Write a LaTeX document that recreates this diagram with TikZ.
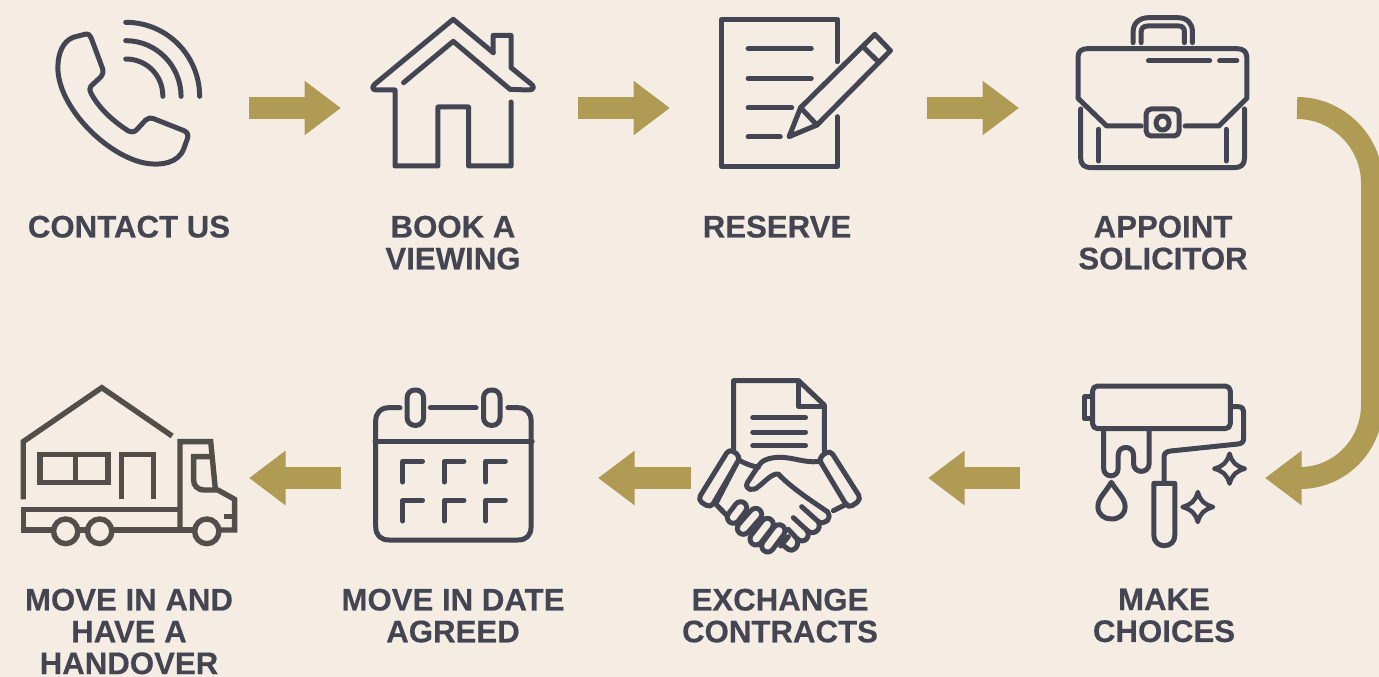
\documentclass[tikz,border=0pt]{standalone}
\usepackage{fontspec}
\setmainfont[BoldFeatures={FakeBold=0.4}]{Liberation Sans}
\usetikzlibrary{arrows.meta}
\definecolor{bgc}{HTML}{F5EDE4}
\definecolor{gold}{HTML}{B09B55}
\definecolor{ink}{HTML}{434652}
\definecolor{brownink}{HTML}{544E4A}
\tikzset{
  icon/.style={draw=ink,line width=5pt,line cap=round,line join=round},
  truckline/.style={draw=brownink,line width=5.4pt,line cap=butt,line join=miter},
  flow/.style={draw=gold,line width=22pt,-{Triangle[length=36.5pt,width=52pt,fill=gold]}},
  caption/.style={text=ink,align=center,anchor=north,inner sep=0pt,font=\fontsize{31.2}{31.8}\selectfont\bfseries},
  zA/.style={x=0.35714pt,y=-0.33333pt},
  zB/.style={x=0.3827pt,y=-0.33333pt},
  capsule/.style={draw=ink,line width=5pt,double=bgc,double distance=7pt,line cap=round},
}
\newcommand{\spark}[2]{%
  \draw[icon,line width=4.4pt] (#1,#2-45) .. controls (#1+7,#2-17) and (#1+17,#2-8) .. (#1+40,#2)
    .. controls (#1+17,#2+8) and (#1+7,#2+17) .. (#1,#2+45)
    .. controls (#1-7,#2+17) and (#1-17,#2+8) .. (#1-40,#2)
    .. controls (#1-17,#2-8) and (#1-7,#2-17) .. cycle;}
\begin{document}
\begin{tikzpicture}[x=1pt,y=-1pt]
\useasboundingbox (0,0) rectangle (1379,677);
\clip (0,0) rectangle (1379,677);
\fill[bgc] (0,0) rectangle (1379,677);

\coordinate (phone) at (129,108);
\coordinate (house) at (453,108);
\coordinate (doc) at (778,108);
\coordinate (case) at (1163,108);
\coordinate (truck) at (129,478);
\coordinate (cal) at (453,478);
\coordinate (shake) at (778,478);
\coordinate (roller) at (1164,478);
\coordinate (bendstart) at (1297,108);
\coordinate (bendend) at (1265,478);

% labels
\node[caption] (t1) at (129,215.5) {CONTACT US};
\node[caption] (t2) at (453,215.5) {BOOK A\\VIEWING};
\node[caption] (t3) at (777,215.5) {RESERVE};
\node[caption] (t4) at (1163,215.5) {APPOINT\\SOLICITOR};
\node[caption] (t5) at (129,588.5) {MOVE IN AND\\HAVE A\\HANDOVER};
\node[caption] (t6) at (453,588.5) {MOVE IN DATE\\AGREED};
\node[caption] (t7) at (780,588.5) {EXCHANGE\\CONTRACTS};
\node[caption] (t8) at (1164,588.5) {MAKE\\CHOICES};

% arrows
\draw[flow,shorten <=120pt,shorten >=112pt] (phone) -- (house);
\draw[flow,shorten <=125pt,shorten >=108pt] (house) -- (doc);
\draw[flow,shorten <=149pt,shorten >=144pt] (doc) -- (case);
\draw[flow,shorten <=144pt,shorten >=150pt] (roller) -- (shake);
\draw[flow,shorten <=87pt,shorten >=145pt] (shake) -- (cal);
\draw[flow,shorten <=112pt,shorten >=120pt] (cal) -- (truck);
\draw[flow] (bendstart) .. controls ++(41,0) and (1372,142) .. (1372,183) -- (1372,405)
  .. controls (1372,445) and (1340,478) .. (1300,478) -- (bendend);

% phone
\begin{scope}[zA]
\draw[icon] (205,112) -- (237,103) .. controls (247,100) and (252,105) .. (255,113) -- (287,205)
  .. controls (290,215) and (288,225) .. (280,233) -- (255,258) .. controls (250,265) and (250,272) .. (255,280)
  .. controls (280,330) and (320,365) .. (358,392) .. controls (368,397) and (375,397) .. (382,390)
  -- (408,360) .. controls (415,353) and (422,353) .. (430,356) -- (515,392)
  .. controls (525,397) and (528,405) .. (525,415) -- (515,445)
  .. controls (500,490) and (450,497) .. (410,490) .. controls (300,470) and (160,320) .. (162,200)
  .. controls (163,160) and (175,125) .. (205,112) -- cycle;
\draw[icon] (352,177) .. controls (410,177) and (456,225) .. (456,289);
\draw[icon] (352,122) .. controls (440,122) and (507,200) .. (507,289);
\draw[icon] (352,67) .. controls (470,67) and (559,170) .. (559,289);
% house
\draw[icon] (1381,158) -- (1269,58) -- (1050,252) .. controls (1040,262) and (1042,270) .. (1055,270)
  -- (1106,270) -- (1106,498) -- (1226,498) -- (1226,321) -- (1312,321) -- (1312,498) -- (1431,498) -- (1431,306);
\draw[icon] (1130,248) -- (1269,124) -- (1428,268) -- (1480,270) .. controls (1497,270) and (1497,258) .. (1485,250)
  -- (1431,203) -- (1431,106) -- (1381,106) -- (1381,158);
\end{scope}

% document and case
\begin{scope}[shift={(680,0)},zB]
\draw[icon] (411,185) -- (411,58) -- (109,58) -- (109,500) -- (411,500) -- (411,350);
\draw[icon] (178,146) -- (343,146) (178,235) -- (343,235) (178,323) -- (292,323) (178,411) -- (262,411);
\draw[icon] (315,323) -- (509,103) -- (550,152) -- (358,375) -- (285,410) -- cycle;
\draw[icon] (478,140) -- (518,185) (315,323) -- (358,375);
\draw[icon] (1184,128) -- (1184,95) .. controls (1184,70) and (1200,53) .. (1225,53) -- (1300,53)
  .. controls (1325,53) and (1339,70) .. (1339,95) -- (1339,128);
\draw[icon] (1205,128) -- (1205,95) .. controls (1205,84) and (1212,78) .. (1222,78) -- (1303,78)
  .. controls (1313,78) and (1318,84) .. (1318,95) -- (1318,128);
\draw[icon] (1205,378) -- (1115,378) -- (1040,295) -- (1040,172) .. controls (1040,155) and (1048,146) .. (1065,146)
  -- (1455,146) .. controls (1472,146) and (1481,155) .. (1481,172) -- (1481,295) -- (1408,378) -- (1320,378);
\draw[icon] (1224,182) -- (1384,182) (1410,182) -- (1455,182);
\draw[icon,rounded corners=5pt] (1218,327) rectangle (1304,408);
\draw[icon] (1261,369) circle [x radius=17,y radius=21];
\draw[icon] (1047,327) -- (1047,475) .. controls (1047,495) and (1058,503) .. (1075,503) -- (1447,503)
  .. controls (1465,503) and (1475,495) .. (1475,475) -- (1475,327);
\draw[icon] (1094,388) -- (1094,483) (1427,388) -- (1427,483);
\end{scope}

% truck and calendar
\begin{scope}[shift={(0,370)},zA]
\draw[truckline] (65,388) -- (65,215) -- (285,53) -- (482,198);
\draw[truckline] (112,254) rectangle (302,338);
\draw[truckline] (211,254) -- (211,338);
\draw[truckline] (341,388) -- (341,254) -- (430,254) -- (430,388);
\draw[truckline] (504,418) -- (65,418) -- (65,480) -- (148,480);
\draw[truckline] (222,480) -- (245,480) (318,480) -- (545,480);
\draw[truckline] (615,480) -- (657,480) -- (657,388) -- (610,360) -- (572,360)
  .. controls (552,360) and (542,345) .. (542,330) -- (542,260) -- (590,260);
\draw[truckline] (504,480) -- (504,215) -- (590,215) -- (603,358);
\draw[truckline] (627,439) -- (657,439);
\draw[truckline] (184,484) circle [x radius=34,y radius=37];
\draw[truckline] (279,484) circle [x radius=34,y radius=37];
\draw[truckline] (579,484) circle [x radius=34,y radius=37];
\draw[icon] (1120,113) -- (1090,113) .. controls (1065,113) and (1052,130) .. (1052,152) -- (1052,470)
  .. controls (1052,495) and (1065,510) .. (1090,510) -- (1450,510)
  .. controls (1475,510) and (1487,495) .. (1487,470) -- (1487,152)
  .. controls (1487,130) and (1475,113) .. (1450,113) -- (1422,113);
\draw[icon] (1205,113) -- (1333,113);
\draw[icon] (1050,214) -- (1490,214);
\draw[icon,rounded corners=7.5pt] (1140,60) rectangle (1186,166);
\draw[icon,rounded corners=7.5pt] (1354,60) rectangle (1400,166);
\foreach \cx in {1128,1244,1360}{\foreach \cy in {274,391}{
  \draw[icon] (\cx,\cy+62) -- (\cx,\cy) -- (\cx+55,\cy);}}
\end{scope}

% handshake document and roller
\begin{scope}[shift={(680,370)},zB]
\draw[icon] (140,240) -- (140,32) -- (310,32) -- (377,105) -- (377,245);
\draw[icon] (310,32) -- (310,110) -- (377,110);
\draw[icon] (190,143) -- (328,143) (190,186) -- (328,186) (190,227) -- (328,227);
% roller
\draw[icon,rounded corners=5pt] (1078,48) rectangle (1438,176);
\draw[icon] (1075,80) -- (1057,80) -- (1057,146) -- (1075,146);
\draw[icon] (1443,110) -- (1458,110) .. controls (1468,110) and (1473,116) .. (1473,125) -- (1473,205)
  .. controls (1473,215) and (1468,221) .. (1458,222) -- (1282,243) .. controls (1270,245) and (1265,250) .. (1265,260) -- (1265,340);
\draw[icon] (1238,340) -- (1293,340) -- (1293,495) .. controls (1293,515) and (1282,527) .. (1265,527)
  .. controls (1250,527) and (1238,515) .. (1238,495) -- cycle;
\draw[icon] (1107,180) -- (1107,295) .. controls (1107,325) and (1145,325) .. (1145,295) -- (1145,255)
  .. controls (1145,225) and (1185,225) .. (1185,255) -- (1185,280) .. controls (1185,312) and (1226,312) .. (1226,280) -- (1226,180);
\draw[icon] (1127,337) .. controls (1110,370) and (1092,385) .. (1092,410) .. controls (1092,435) and (1110,447) .. (1127,447)
  .. controls (1147,447) and (1163,435) .. (1163,410) .. controls (1163,385) and (1145,370) .. (1127,337) -- cycle;
\spark{1436}{296}
\spark{1353}{411}
\end{scope}

% handshake hands
\begin{scope}[shift={(690,440)},x=0.33333pt,y=-0.33333pt]
\draw[icon,rounded corners=5pt] (118,26) -- (152,50) -- (62,204) -- (23,180) -- cycle;
\draw[icon,rounded corners=5pt] (420,30) -- (385,55) -- (475,205) -- (514,178) -- cycle;
\draw[icon] (150,62) .. controls (168,72) and (185,78) .. (205,82);
\draw[icon] (205,78) .. controls (215,60) and (240,52) .. (270,52) .. controls (310,52) and (340,68) .. (385,65);
\draw[icon] (205,78) -- (172,128) .. controls (162,150) and (190,155) .. (205,140)
  .. controls (225,125) and (245,100) .. (265,102) .. controls (300,140) and (360,180) .. (412,215);
\draw[icon] (430,212) -- (470,192);
\draw[icon] (412,215) .. controls (428,237) and (405,255) .. (385,245) -- (335,200);
\draw[icon] (385,245) .. controls (397,268) and (370,290) .. (350,270) -- (310,233);
\draw[icon] (350,270) .. controls (365,292) and (340,315) .. (320,295) -- (295,268);
\draw[icon] (320,295) .. controls (332,322) and (305,338) .. (295,328) -- (272,310);
\draw[icon] (295,290) -- (272,318);
\draw[icon] (140,70) -- (78,190);
\draw[icon] (75,190) -- (112,228);
\draw[capsule] (130,232) -- (152,203);
\draw[capsule] (160,265) -- (197,223);
\draw[capsule] (198,297) -- (232,253);
\draw[capsule] (233,318) -- (267,272);
\end{scope}
\end{tikzpicture}
\end{document}
